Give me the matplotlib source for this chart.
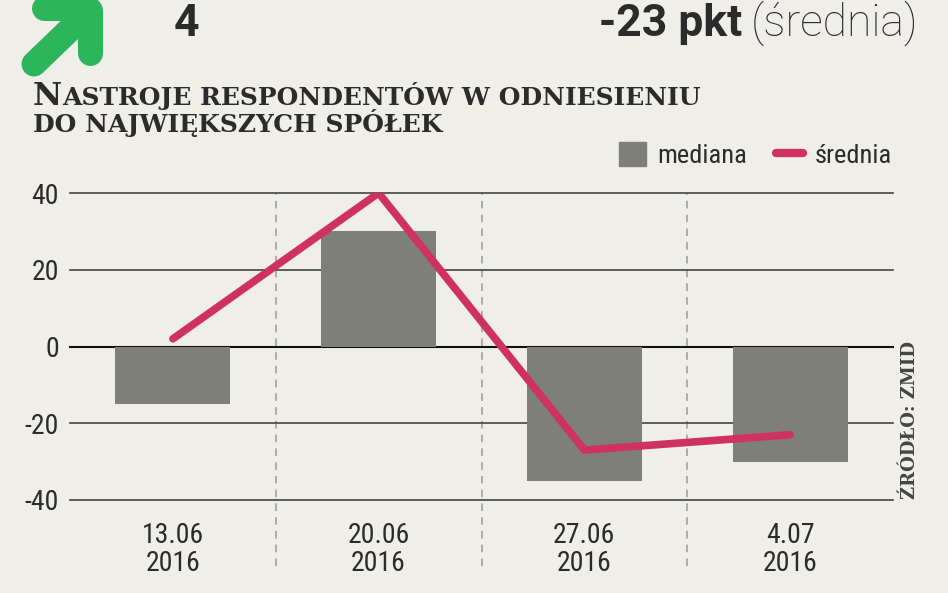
import matplotlib
matplotlib.use("Agg")
import matplotlib.pyplot as plt
import numpy as np
from matplotlib import font_manager
from matplotlib.lines import Line2D
from matplotlib.patches import Patch

# --------------------------------------- DATA ------------------------------------------------ #
dates = ['13.06\n2016', '20.06\n2016', '27.06\n2016', '4.07\n2016']
mediana = [-15, 30, -35, -30]
srednia = [2, 40, -27, -23]
y_ticks = [-40, -20, 0, 20, 40]

# --------------------------------------- FONTS ----------------------------------------------- #
names = {f.name for f in font_manager.fontManager.ttflist}
narrow = 'DejaVu Sans'
for cand in ['Roboto Condensed', 'Liberation Sans Narrow', 'Open Sans Condensed', 'Roboto']:
    if cand in names:
        narrow = cand
        break
wide = 'Roboto' if 'Roboto' in names else 'DejaVu Sans'
slab = 'DejaVu Serif' if 'DejaVu Serif' in names else 'Liberation Serif'

bg = '#efeee9'
ink = '#2b2b2b'
grey = '#7f7f7a'
pink = '#d0325f'
green = '#2cb55a'

W, H = 948, 593
fig = plt.figure(figsize=(W / 100, H / 100), dpi=100, facecolor=bg)


def px(x0, y0):
    return x0 / W, 1 - y0 / H


# --------------------------------------- PLOT ------------------------------------------------ #
ax = fig.add_axes([70 / W, 1 - 500 / H, (893 - 70) / W, (500 - 193) / H])
ax.set_facecolor(bg)
x = np.arange(len(dates))

for v in y_ticks:
    ax.axhline(v, color='#111111' if v == 0 else '#444444', lw=1.5 if v == 0 else 1.2,
               zorder=1, clip_on=False)
for s in x[:-1] + 0.5:
    ax.axvline(s, ymin=-0.215, ymax=1, color='#9a9a9a', lw=1.1, ls=(0, (5, 4)),
               zorder=0.5, clip_on=False)

ax.bar(x, mediana, width=0.56, color=grey, zorder=2)
ax.plot(x, srednia, color=pink, lw=5.5, solid_capstyle='round', solid_joinstyle='miter',
        zorder=3)

ax.set_xlim(-0.5, len(dates) - 0.5)
ax.set_ylim(-40, 40)
ax.set_yticks(y_ticks)
ax.set_yticklabels([str(v) for v in y_ticks])
ax.set_xticks(x)
ax.set_xticklabels(dates, linespacing=1.05)
ax.tick_params(length=0, labelsize=20, colors=ink)
ax.tick_params(axis='y', pad=8)
ax.tick_params(axis='x', pad=16)
for lab in ax.get_xticklabels() + ax.get_yticklabels():
    lab.set_family(narrow)
for sp in ax.spines.values():
    sp.set_visible(False)

handles = [Patch(color=grey, label='mediana'),
           Line2D([], [], color=pink, lw=6, solid_capstyle='round', label='średnia')]
fig.legend(handles=handles, loc='center right', bbox_to_anchor=px(892, 155), ncol=2,
           frameon=False, borderpad=0, borderaxespad=0, handlelength=1.0, handleheight=1.0,
           handletextpad=0.45, columnspacing=1.1, prop={'family': narrow, 'size': 19},
           labelcolor=ink)

# --------------------------------------- HEADER ---------------------------------------------- #
over = fig.add_axes([0, 0, 1, 1], facecolor='none')
over.set_xlim(0, W)
over.set_ylim(H, 0)
over.axis('off')
for (xa, ya), (xb, yb) in [((34, 64), (86, 14)), ((44, 8), (88, 8)), ((90, 10), (90, 53))]:
    over.plot([xa, xb], [ya, yb], color=green, lw=18, solid_capstyle='round')

fig.text(*px(174, 36), '4', fontsize=32, fontweight='bold', family=wide, color=ink,
         va='baseline')
renderer = fig.canvas.get_renderer()
t_sr = fig.text(*px(918, 36), '(średnia)', fontsize=32, fontweight='light', family=wide,
                color=ink, va='baseline', ha='right')
bb = t_sr.get_window_extent(renderer)
fig.text(bb.x0 / W - 8 / W, 1 - 36 / H, '-23 pkt', fontsize=32, fontweight='bold',
         family=wide, color=ink, va='baseline', ha='right')

t_n = fig.text(*px(33, 105), 'N', fontsize=23, fontweight='bold', family=slab, color=ink,
               va='baseline')
bb = t_n.get_window_extent(renderer)
fig.text(bb.x1 / W, 1 - 105 / H, 'ASTROJE RESPONDENTÓW W ODNIESIENIU', fontsize=18,
         fontweight='bold', family=slab, color=ink, va='baseline')
fig.text(*px(33, 132), 'DO NAJWIĘKSZYCH SPÓŁEK', fontsize=18, fontweight='bold',
         family=slab, color=ink, va='baseline')

fig.text(*px(910, 420), 'ŹRÓDŁO: ZMID', fontsize=13, fontweight='bold', family=slab,
         color='#444444', rotation=90, ha='center', va='center')

fig.savefig('out.png', dpi=100, facecolor=bg)
